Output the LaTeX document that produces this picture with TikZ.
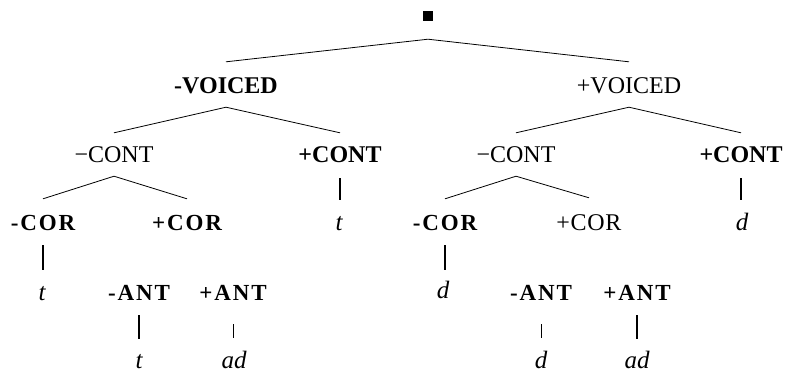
\documentclass[tikz,border=0pt]{standalone}
\usepackage{fontspec}
\setmainfont{Liberation Serif}
\usetikzlibrary{calc}
\begin{document}
\begin{tikzpicture}[x=1pt,y=-1pt,
  base/.style={inner sep=0pt, anchor=base, text depth=0pt},
  boldlab/.style={base, text height=15pt, font=\fontsize{24}{28}\selectfont\bfseries},
  reglab/.style={base, text height=15pt, font=\fontsize{24}{28}\selectfont},
  reglabsp/.style={base, text height=15pt, font=\fontsize{24}{28}\selectfont\addfontfeature{LetterSpace=3}},
  splab/.style={base, text height=14pt, font=\fontsize{23}{27}\selectfont\bfseries\addfontfeature{LetterSpace=8}},
  seg/.style={base, text height=13pt, font=\fontsize{25}{29}\selectfont\itshape},
  branch/.style={line width=0.8pt},
  stemthick/.style={line width=1.7pt},
  stemthin/.style={line width=0.6pt}]
\useasboundingbox (0,0) rectangle (789,373);

\node[fill=black, minimum size=10pt, inner sep=0pt] (r) at (428,15.5) {};

\node[boldlab] (lv) at (226,93) {-VOICED};
\node[reglab] (rv) at (629,93) {+VOICED};

\node[reglab] (lmc) at (114,162) {−CONT};
\node[boldlab] (lpc) at (340,162) {+CONT};
\node[reglab] (rmc) at (516,162) {−CONT};
\node[boldlab] (rpc) at (741,162) {+CONT};

\node[seg] (lt1) at (339,230) {t};
\node[seg] (rd1) at (742,230) {d};
\node[splab] (lmcor) at (43,230) {-COR};
\node[splab] (lpcor) at (187,230) {+COR};
\node[splab] (rmcor) at (445,230) {-COR};
\node[reglabsp] (rpcor) at (589,230) {+COR};

\node[seg] (lt2) at (42,300) {t};
\node[seg] (rd2) at (443,298) {d};
\node[splab] (lmant) at (139,300) {-ANT};
\node[splab] (lpant) at (233,300) {+ANT};
\node[splab] (rmant) at (541,300) {-ANT};
\node[splab] (rpant) at (637,300) {+ANT};

\node[seg] (lt3) at (139,368) {t};
\node[seg] (lad) at (234,368) {ad};
\node[seg] (rd3) at (541,368) {d};
\node[seg] (rad) at (637,368) {ad};

% branches
\draw[branch] ([yshift=-18.5pt]r.south) -- ([yshift=16pt]lv.north);
\draw[branch] ([yshift=-18.5pt]r.south) -- ([yshift=16pt]rv.north);
\draw[branch] ([yshift=-14pt]lv.south) -- ([yshift=14pt]lmc.north);
\draw[branch] ([yshift=-14pt]lv.south) -- ([yshift=14pt]lpc.north);
\draw[branch] ([yshift=-14pt]rv.south) -- ([yshift=14pt]rmc.north);
\draw[branch] ([yshift=-14pt]rv.south) -- ([yshift=14pt]rpc.north);
\draw[branch] ([yshift=-14pt]lmc.south) -- ([yshift=17pt]lmcor.north);
\draw[branch] ([yshift=-14pt]lmc.south) -- ([yshift=17pt]lpcor.north);
\draw[branch] ([yshift=-14pt]rmc.south) -- ([yshift=17pt]rmcor.north);
\draw[branch] ([yshift=-14pt]rmc.south) -- ([yshift=17pt]rpcor.north);

% stems (vertical, at the parent's x)
\draw[stemthick] ($(lpc.south)+(0,16)$) -- ($(lpc.south |- lt1.north)+(0,-17)$);
\draw[stemthick] ($(rpc.south)+(0,16)$) -- ($(rpc.south |- rd1.north)+(0,-17)$);
\draw[stemthick] ($(lmcor.south)+(0,15)$) -- ($(lmcor.south |- lt2.north)+(0,-17)$);
\draw[stemthick] ($(rmcor.south)+(0,15)$) -- ($(rmcor.south |- rd2.north)+(0,-15)$);
\draw[stemthick] ($(lmant.south)+(0,15)$) -- ($(lmant.south |- lt3.north)+(0,-16)$);
\draw[stemthin] ($(lpant.south)+(0,24)$) -- ($(lpant.south |- lad.north)+(0,-17)$);
\draw[stemthin] ($(rmant.south)+(0,24)$) -- ($(rmant.south |- rd3.north)+(0,-17)$);
\draw[stemthick] ($(rpant.south)+(0,15)$) -- ($(rpant.south |- rad.north)+(0,-16)$);
\end{tikzpicture}
\end{document}
